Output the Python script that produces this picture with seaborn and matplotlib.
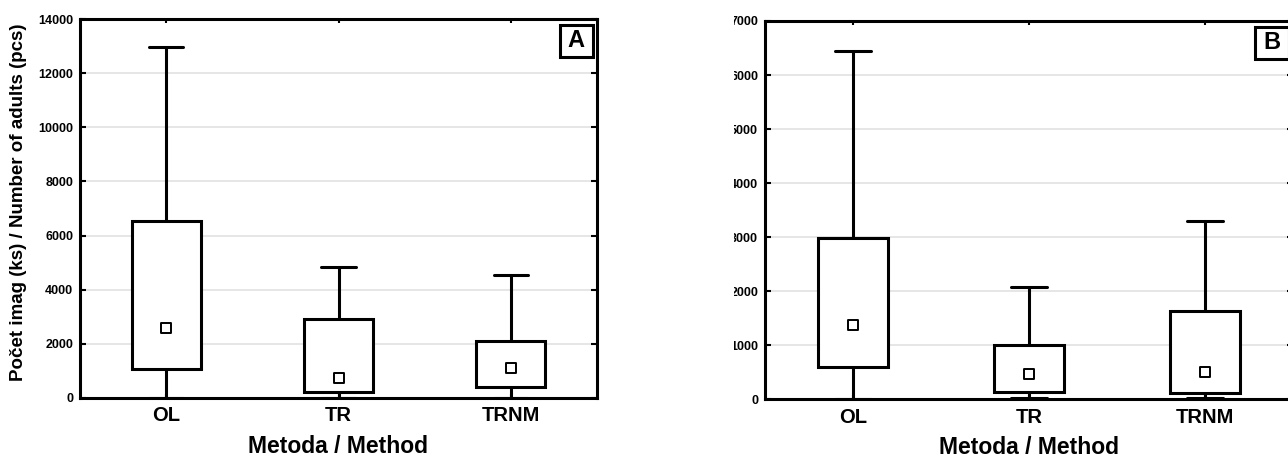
import numpy as np
import pandas as pd
import matplotlib
matplotlib.use("Agg")
import matplotlib.pyplot as plt
from matplotlib.patches import Rectangle
from matplotlib.transforms import Bbox
import seaborn as sns

# ---------------- data ----------------
methods = ["OL", "TR", "TRNM"]

# Panel A
a_min = [0, 0, 0]
a_low = [1060, 210, 420]
a_mean = [2580, 730, 1120]
a_high = [6540, 2920, 2120]
a_max = [12950, 4850, 4550]

# Panel B
b_min = [0, 20, 30]
b_low = [600, 140, 120]
b_mean = [1380, 470, 510]
b_high = [2980, 1000, 1640]
b_max = [6450, 2070, 3300]

a_yticks = list(range(0, 14001, 2000))
b_yticks = list(range(0, 7001, 1000))

xlabel = "Metoda / Method"
ylabel = "Počet imag (ks) / Number of adults (pcs)"


def long_frame(mn, lo, me, hi, mx):
    rows = []
    for i, m in enumerate(methods):
        for v in (mn[i], lo[i], me[i], hi[i], mx[i]):
            rows.append({"method": m, "value": v})
    return pd.DataFrame(rows)


sns.set_theme(style="white")
plt.rcParams["font.family"] = ["Liberation Sans", "DejaVu Sans"]
plt.rcParams["font.weight"] = "bold"
plt.rcParams["text.color"] = "black"
plt.rcParams["axes.labelcolor"] = "black"
plt.rcParams["xtick.color"] = "black"
plt.rcParams["ytick.color"] = "black"

fig = plt.figure(figsize=(12.88, 4.59), dpi=100)
axA = fig.add_axes([80 / 1288, (459 - 398) / 459, 517 / 1288, 379 / 459])
axB = fig.add_axes([765 / 1288, (459 - 399.3) / 459, 528 / 1288, 378.3 / 459])

LW = 2.2


def draw_panel(ax, mn, lo, me, hi, mx, yticks, letter):
    df = long_frame(mn, lo, me, hi, mx)
    sns.boxplot(data=df, x="method", y="value", order=methods, whis=(0, 100),
                width=0.4, color="white", linecolor="black", linewidth=LW,
                showfliers=False, medianprops={"visible": False}, ax=ax,
                zorder=3)
    sns.scatterplot(x=methods, y=me, marker="s", s=50, color="white",
                    edgecolor="black", linewidth=1.4, zorder=6, ax=ax,
                    legend=False)
    ax.set_xlim(-0.5, 2.5)
    ax.set_ylim(yticks[0], yticks[-1])
    ax.set_yticks(yticks)
    ax.set_yticklabels([str(t) for t in yticks], fontsize=9, fontweight="bold",
                       color="black")
    ax.set_xticks(range(len(methods)))
    ax.set_xticklabels(methods, fontsize=14.5, fontweight="bold", color="black")
    ax.yaxis.grid(True, color="#e4e4e4", linewidth=1.3)
    ax.xaxis.grid(False)
    ax.set_axisbelow(True)
    for sp in ax.spines.values():
        sp.set_visible(True)
        sp.set_color("black")
        sp.set_linewidth(LW)
        sp.set_zorder(7)
    ax.tick_params(axis="y", direction="in", length=4, width=1.5, left=True,
                   right=True, pad=5, colors="black")
    ax.tick_params(axis="x", direction="in", length=3, width=1.5, bottom=True,
                   top=True, pad=6, colors="black")
    ax.set_xlabel(xlabel, fontsize=16.5, fontweight="bold", labelpad=7,
                  color="black")
    ax.add_patch(Rectangle((0.928, 0.9), 0.0635, 0.084, transform=ax.transAxes,
                           facecolor="white", edgecolor="black", linewidth=LW,
                           zorder=8, clip_on=False))
    ax.text(0.9597, 0.942, letter, transform=ax.transAxes, ha="center",
            va="center", fontsize=17, fontweight="bold", zorder=9,
            color="black")


draw_panel(axA, a_min, a_low, a_mean, a_high, a_max, a_yticks, "A")
draw_panel(axB, b_min, b_low, b_mean, b_high, b_max, b_yticks, "B")

axA.set_ylabel(ylabel, fontsize=13.5, fontweight="bold", color="black")
axA.yaxis.set_label_coords(-0.103, 0.517)
axB.set_ylabel("")

# the right panel's tick labels are cropped at its left edge in the reference
fig.canvas.draw()
clip = Bbox.from_extents(734, 0, 1288, 459)
for lab in axB.get_yticklabels():
    lab.set_clip_box(clip)
    lab.set_clip_on(True)

fig.savefig("out.png", dpi=100)
